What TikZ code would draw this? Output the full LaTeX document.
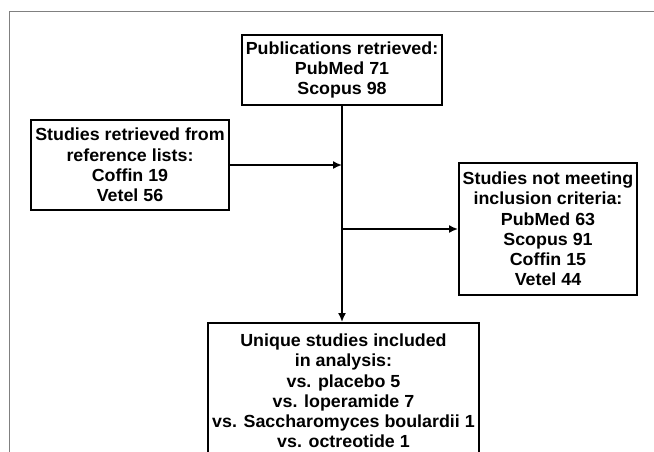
\documentclass[tikz,border=0pt]{standalone}
\usepackage{fontspec}
\setmainfont[FakeStretch=1.02]{Liberation Sans}
\usetikzlibrary{calc,arrows.meta}

\begin{document}
\begin{tikzpicture}[x=1pt, y=-1pt,
  box/.style={draw, line width=2pt, align=center, inner sep=0pt,
    font=\fontsize{17.5}{20.2}\selectfont\bfseries},
  flow/.style={line width=1.6pt, -{Latex[length=9pt,width=8pt]}}]
\useasboundingbox (0,0) rectangle (654,451);
\clip (0,0) rectangle (654,451);

%frame
\draw[gray, line width=1pt] (9,470) -- (9,11) -- (670,11);

%boxes
\node[box, minimum width=200pt, minimum height=70pt] (pub) at (342,70)
  {Publications retrieved:\\PubMed 71\\Scopus 98};
\node[box, minimum width=198pt, minimum height=90pt] (ref) at (130,165)
  {Studies retrieved from\\reference lists:\\Coffin 19\\Vetel 56};
\node[box, minimum width=178pt, minimum height=132pt] (excl) at (548,229)
  {Studies not meeting\\inclusion criteria:\\PubMed 63\\Scopus 91\\Coffin 15\\Vetel 44};
\node[box, minimum width=271pt, minimum height=136pt, anchor=north] (uniq) at (343.5,322)
  {Unique studies included\\in analysis:\\vs. placebo 5\\vs. loperamide 7\\vs. Saccharomyces boulardii 1\\vs. octreotide 1};

%arrows
\draw[flow] (pub.south) -- (pub.south |- uniq.north);
\draw[flow] (ref.east) -- (ref.east -| pub.south);
\draw[flow] (pub.south |- excl.west) -- (excl.west);

\end{tikzpicture}
\end{document}
